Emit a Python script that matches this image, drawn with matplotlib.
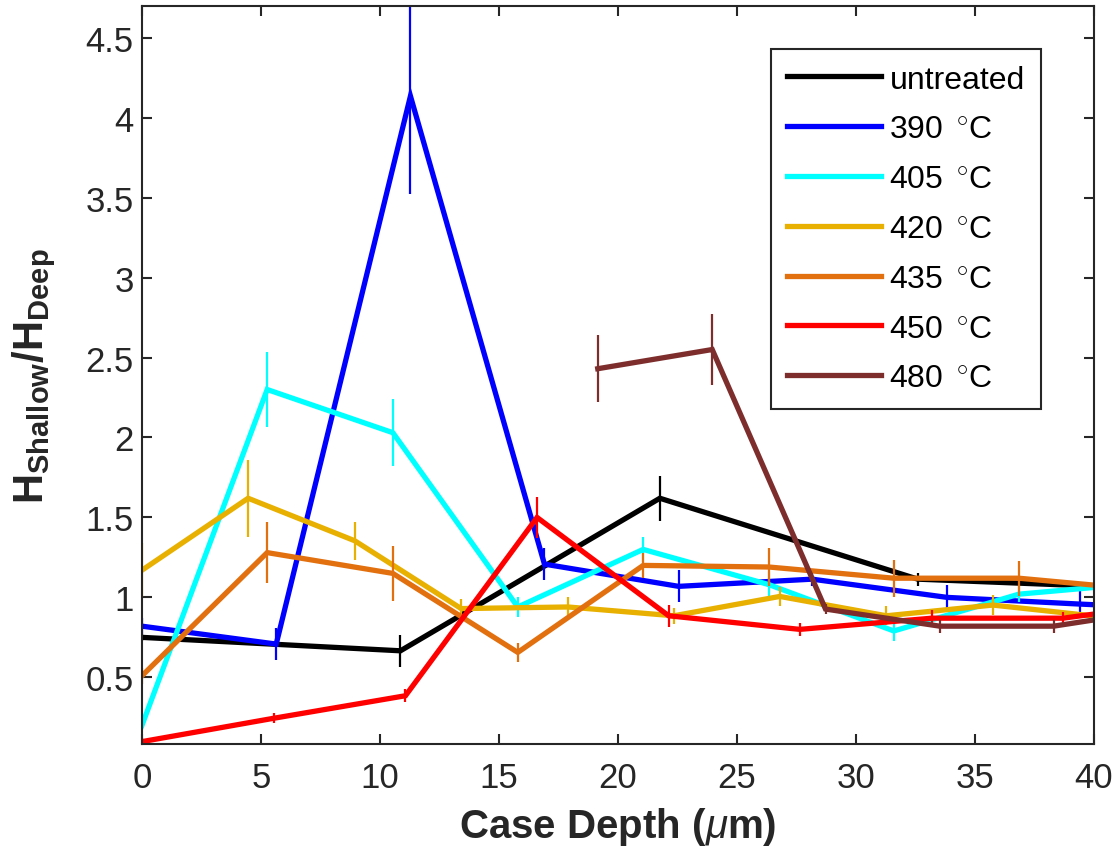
import numpy as np
import matplotlib
matplotlib.use("Agg")
import matplotlib.pyplot as plt
import matplotlib.ticker as mtick

plt.rcParams['font.family'] = ['Liberation Sans', 'DejaVu Sans']
plt.rcParams['mathtext.fontset'] = 'custom'
plt.rcParams['mathtext.rm'] = 'Liberation Sans'
plt.rcParams['mathtext.it'] = 'Liberation Sans:italic'
plt.rcParams['mathtext.bf'] = 'Liberation Sans:bold'

# ---- data ----
x_untreated = [0, 10.86, 21.76, 32.6, 43.5]
y_untreated = [0.75, 0.666, 1.62, 1.114, 1.05]
e_untreated = [0.02, 0.10, 0.14, 0.04, 0.04]

x_390 = [0, 5.64, 11.28, 16.91, 22.55, 28.16, 33.83, 39.43, 45.1]
y_390 = [0.82, 0.708, 4.135, 1.208, 1.069, 1.114, 1.0, 0.958, 0.92]
e_390 = [0.05, 0.10, 0.61, 0.10, 0.10, 0.04, 0.08, 0.08, 0.05]

x_405 = [0, 5.26, 10.54, 15.79, 21.06, 26.34, 31.59, 36.84, 42.1]
y_405 = [0.20, 2.30, 2.03, 0.94, 1.30, 1.08, 0.79, 1.02, 1.09]
e_405 = [0.03, 0.235, 0.21, 0.06, 0.08, 0.08, 0.06, 0.05, 0.05]

x_420 = [0, 4.46, 8.94, 13.41, 17.9, 22.35, 26.8, 31.28, 35.75, 40.22]
y_420 = [1.17, 1.62, 1.354, 0.93, 0.94, 0.885, 1.006, 0.885, 0.952, 0.88]
e_420 = [0.17, 0.24, 0.12, 0.06, 0.06, 0.05, 0.06, 0.06, 0.06, 0.04]

x_435 = [0, 5.26, 10.54, 15.79, 21.06, 26.34, 31.59, 36.84, 42.1]
y_435 = [0.51, 1.28, 1.15, 0.656, 1.20, 1.19, 1.12, 1.12, 1.048]
e_435 = [0.05, 0.19, 0.17, 0.06, 0.08, 0.12, 0.115, 0.11, 0.05]

x_450 = [0, 5.53, 11.07, 16.6, 22.13, 27.64, 33.2, 38.7, 44.25]
y_450 = [0.098, 0.244, 0.385, 1.50, 0.885, 0.80, 0.87, 0.87, 0.98]
e_450 = [0.02, 0.03, 0.04, 0.13, 0.07, 0.04, 0.05, 0.04, 0.04]

x_480 = [19.15, 23.96, 28.72, 33.52, 38.3, 43.1]
y_480 = [2.43, 2.55, 0.927, 0.82, 0.82, 0.93]
e_480 = [0.21, 0.22, 0.03, 0.04, 0.04, 0.04]

labels = ['untreated', r'390 $\,^{\circ}$C', r'405 $\,^{\circ}$C', r'420 $\,^{\circ}$C',
          r'435 $\,^{\circ}$C', r'450 $\,^{\circ}$C', r'480 $\,^{\circ}$C']
colors = ['#000000', '#0000FF', '#00FFFF', '#E8B000', '#E2700F', '#FF0000', '#7D2E2C']

series = [
    (x_untreated, y_untreated, e_untreated),
    (x_390, y_390, e_390),
    (x_405, y_405, e_405),
    (x_420, y_420, e_420),
    (x_435, y_435, e_435),
    (x_450, y_450, e_450),
    (x_480, y_480, e_480),
]

fig = plt.figure(figsize=(11.18, 8.62), dpi=100)
ax = fig.add_axes([0.127, 0.1357, 0.8515, 0.8565])

for (xs, ys, es), lab, col in zip(series, labels, colors):
    ax.plot(xs, ys, color=col, linewidth=3.8, label=lab, solid_joinstyle='miter')
    ax.errorbar(xs, ys, yerr=es, fmt='none', ecolor=col, elinewidth=1.6, capsize=0)

ax.set_xlim(0, 40)
ax.set_ylim(0.083, 4.70)
ax.set_xticks(np.arange(0, 41, 5))
ax.set_yticks(np.arange(0.5, 4.51, 0.5))
ax.yaxis.set_major_formatter(mtick.FormatStrFormatter('%g'))

axc = '#262626'
for sp in ax.spines.values():
    sp.set_color(axc)
    sp.set_linewidth(1.5)
ax.tick_params(direction='in', length=7.5, width=1.5, colors=axc, labelsize=25,
               top=True, right=True)
ax.tick_params(axis='x', pad=12)
ax.tick_params(axis='y', pad=6)

ax.set_xlabel(r'Case Depth ($\mu$m)', fontsize=29, fontweight='bold', color=axc, labelpad=8)
ax.set_ylabel(r'$\mathbf{H_{Shallow}/H_{Deep}}$', fontsize=30, color=axc, labelpad=20)

leg = ax.legend(loc='upper right', bbox_to_anchor=(0.944, 0.942), borderaxespad=0,
                fontsize=23, frameon=True, fancybox=False, framealpha=1,
                handlelength=2.95, handletextpad=0.25, labelspacing=0.62,
                borderpad=0.5)
leg.get_frame().set_edgecolor(axc)
leg.get_frame().set_linewidth(1.5)

fig.savefig('out.png', dpi=100)
